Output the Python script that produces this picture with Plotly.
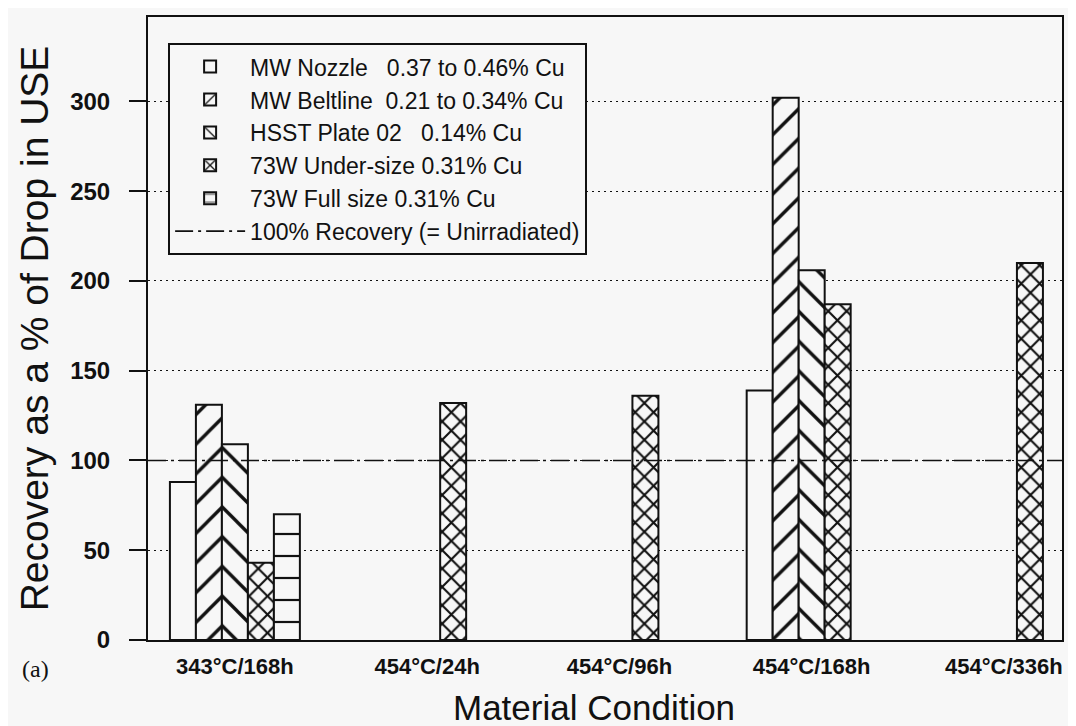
import plotly.graph_objects as go

# Recovery of upper-shelf energy after annealing, per material and condition.
CONDITIONS = ["343°C/168h", "454°C/24h", "454°C/96h", "454°C/168h", "454°C/336h"]

MW_NOZZLE = [88, None, None, 139, None]
MW_BELTLINE = [131, None, None, 302, None]
HSST_PLATE = [109, None, None, 206, None]
UNDER_SIZE = [43, 132, 136, 187, 210]
FULL_SIZE = [70, None, None, None, None]

SERIES = [
    ("MW Nozzle   0.37 to 0.46% Cu", MW_NOZZLE, ""),
    ("MW Beltline  0.21 to 0.34% Cu", MW_BELTLINE, "/"),
    ("HSST Plate 02   0.14% Cu", HSST_PLATE, "\\"),
    ("73W Under-size 0.31% Cu", UNDER_SIZE, "x"),
    ("73W Full size 0.31% Cu", FULL_SIZE, "-"),
]

FULL_RECOVERY = 100
Y_TICKS = [0, 50, 100, 150, 200, 250, 300]
X_RANGE = [-0.452, 4.302]
Y_RANGE = [0, 347]

BG = "#f7f7f7"
INK = "#111111"
PATTERN_SIZE = {"/": 21, "\\": 21, "x": 13, "-": 22}
PATTERN_SOLIDITY = {"/": 0.16, "\\": 0.16, "x": 0.3, "-": 0.1}

fig = go.Figure()

positions = list(range(len(CONDITIONS)))
for name, values, shape in SERIES:
    pattern = dict(shape=shape, fgcolor=INK, fgopacity=1, bgcolor=BG)
    if shape:
        pattern["size"] = PATTERN_SIZE[shape]
        pattern["solidity"] = PATTERN_SOLIDITY[shape]
    fig.add_trace(
        go.Bar(
            x=positions,
            y=values,
            name=name.replace("  ", "\u00a0\u00a0"),
            marker=dict(color=BG, line=dict(color=INK, width=2), pattern=pattern),
        )
    )

# 100 % recovery reference, spanning the whole x axis
fig.add_trace(
    go.Scatter(
        x=X_RANGE,
        y=[FULL_RECOVERY, FULL_RECOVERY],
        mode="lines",
        name="100% Recovery (= Unirradiated)",
        line=dict(color=INK, width=1.6, dash="18px,5px,3px,5px"),
    )
)

fig.update_layout(
    width=1076,
    height=726,
    paper_bgcolor=BG,
    plot_bgcolor=BG,
    barmode="group",
    bargap=0.324,
    bargroupgap=0,
    margin=dict(l=140, r=22, t=9, b=94, autoexpand=False),
    font=dict(family="Liberation Sans, Arial", color=INK),
    legend=dict(
        x=0.022,
        y=0.958,
        xanchor="left",
        yanchor="top",
        bgcolor=BG,
        bordercolor=INK,
        borderwidth=2,
        font=dict(size=23, color=INK),
        itemwidth=70,
        tracegroupgap=0,
    ),
    showlegend=True,
)

fig.update_xaxes(
    range=X_RANGE,
    tickvals=positions,
    ticktext=CONDITIONS,
    tickfont=dict(size=22, weight="bold"),
    ticks="",
    ticklabelstandoff=6,
    showgrid=False,
    showline=True,
    linecolor=INK,
    linewidth=2,
    mirror=True,
    zeroline=False,
    automargin=False,
)

fig.update_yaxes(
    range=Y_RANGE,
    tickvals=Y_TICKS,
    tickfont=dict(size=24, weight="bold"),
    ticks="outside",
    ticklen=17,
    tickwidth=2,
    tickcolor=INK,
    ticklabelstandoff=14,
    showgrid=True,
    gridcolor=INK,
    gridwidth=1,
    griddash="2px,4px",
    showline=True,
    linecolor=INK,
    linewidth=2,
    mirror=True,
    zeroline=False,
    automargin=False,
    title=dict(text="Recovery as a % of Drop in USE", font=dict(size=39), standoff=10),
)

# x-axis title sits a little left of the plot centre in the original
fig.add_annotation(
    text="Material Condition",
    xref="paper",
    yref="paper",
    x=0.488,
    y=-0.108,
    xanchor="center",
    yanchor="middle",
    showarrow=False,
    font=dict(size=35, color=INK),
)

fig.add_annotation(
    text="(a)",
    xref="paper",
    yref="paper",
    x=-0.14,
    y=-0.047,
    xanchor="left",
    yanchor="middle",
    showarrow=False,
    font=dict(family="Liberation Serif, Times New Roman", size=24, color=INK),
)

fig.write_html("out.html")
